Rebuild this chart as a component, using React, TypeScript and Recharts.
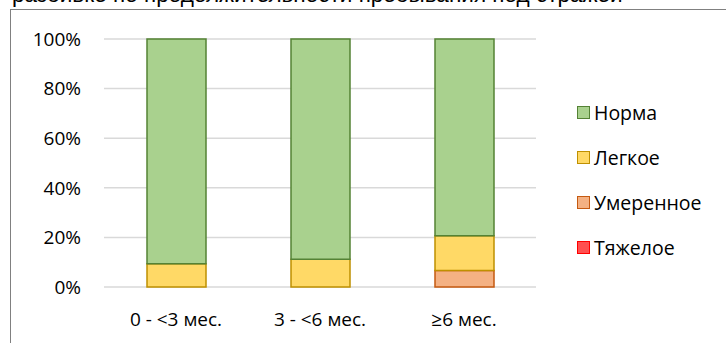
import React from "react"
import { BarChart, Bar, XAxis, YAxis, CartesianGrid, Legend } from "recharts"

const categories = ["0 - <3 мес.", "3 - <6 мес.", "≥6 мес."]
const norma = [90.6, 88.8, 79.3]
const legkoe = [9.4, 11.2, 14.0]
const umerennoe = [0, 0, 6.7]
const tyazheloe = [0, 0, 0]
const yTicks = [0, 20, 40, 60, 80, 100]

// bottom to top in the stack
const series = [
  { key: "tyazheloe", name: "Тяжелое", values: tyazheloe, fill: "#FF5050", stroke: "#FF0000" },
  { key: "umerennoe", name: "Умеренное", values: umerennoe, fill: "#F4B183", stroke: "#C55A11" },
  { key: "legkoe", name: "Легкое", values: legkoe, fill: "#FFD966", stroke: "#BF9000" },
  { key: "norma", name: "Норма", values: norma, fill: "#A9D18E", stroke: "#548235" },
]

const data = categories.map((cat, i) => {
  const row: Record<string, string | number> = { cat }
  series.forEach((s) => {
    row[s.key] = s.values[i]
  })
  return row
})

const font = "'Open Sans', sans-serif"

function LegendBox() {
  const items = [...series].reverse()
  return (
    <div style={{ fontFamily: font, fontSize: 19.5, color: "#000" }}>
      {items.map((s) => (
        <div key={s.key} style={{ display: "flex", alignItems: "center", height: 45 }}>
          <span
            style={{
              display: "inline-block",
              width: 11,
              height: 11,
              background: s.fill,
              border: `1.5px solid ${s.stroke}`,
              marginRight: 4,
            }}
          />
          <span>{s.name}</span>
        </div>
      ))}
    </div>
  )
}

export default function App() {
  return (
    <div
      style={{
        position: "absolute",
        left: 0,
        top: 0,
        width: 726,
        height: 343,
        overflow: "hidden",
        background: "#fff",
      }}
    >
      <div
        style={{
          position: "absolute",
          left: 12,
          top: -18,
          fontFamily: "'Liberation Sans', Arial, sans-serif",
          fontSize: 22.5,
          whiteSpace: "nowrap",
          color: "#000",
        }}
      >
        разбивке по продолжительности пребывания под стражей
      </div>
      <div
        style={{
          position: "absolute",
          left: 10,
          top: 9,
          width: 800,
          height: 400,
          borderLeft: "1.5px solid #808080",
          borderTop: "1.5px solid #808080",
        }}
      />
      <div style={{ position: "absolute", left: 0, top: 0 }}>
        <BarChart
          width={726}
          height={343}
          data={data}
          barSize={59}
          margin={{ top: 39, right: 190, left: 0, bottom: 26 }}
        >
          <CartesianGrid vertical={false} stroke="#D9D9D9" strokeWidth={1.5} />
          <XAxis
            dataKey="cat"
            axisLine={false}
            tickLine={false}
            height={30}
            tick={{ fontFamily: font, fontSize: 19, fill: "#000" }}
            dy={18}
          />
          <YAxis
            width={104}
            domain={[0, 100]}
            ticks={yTicks}
            axisLine={false}
            tickLine={false}
            tickFormatter={(v) => `${v}%`}
            tick={{ fontFamily: font, fontSize: 19, fill: "#000" }}
            dx={-15}
          />
          {series.map((s) => (
            <Bar
              key={s.key}
              dataKey={s.key}
              name={s.name}
              stackId="a"
              fill={s.fill}
              stroke={s.stroke}
              strokeWidth={1.5}
              isAnimationActive={false}
            />
          ))}
          <Legend
            layout="vertical"
            align="center"
            verticalAlign="middle"
            content={() => <LegendBox />}
            wrapperStyle={{ position: "absolute", left: 577, top: 90, width: 150 }}
          />
        </BarChart>
      </div>
    </div>
  )
}
